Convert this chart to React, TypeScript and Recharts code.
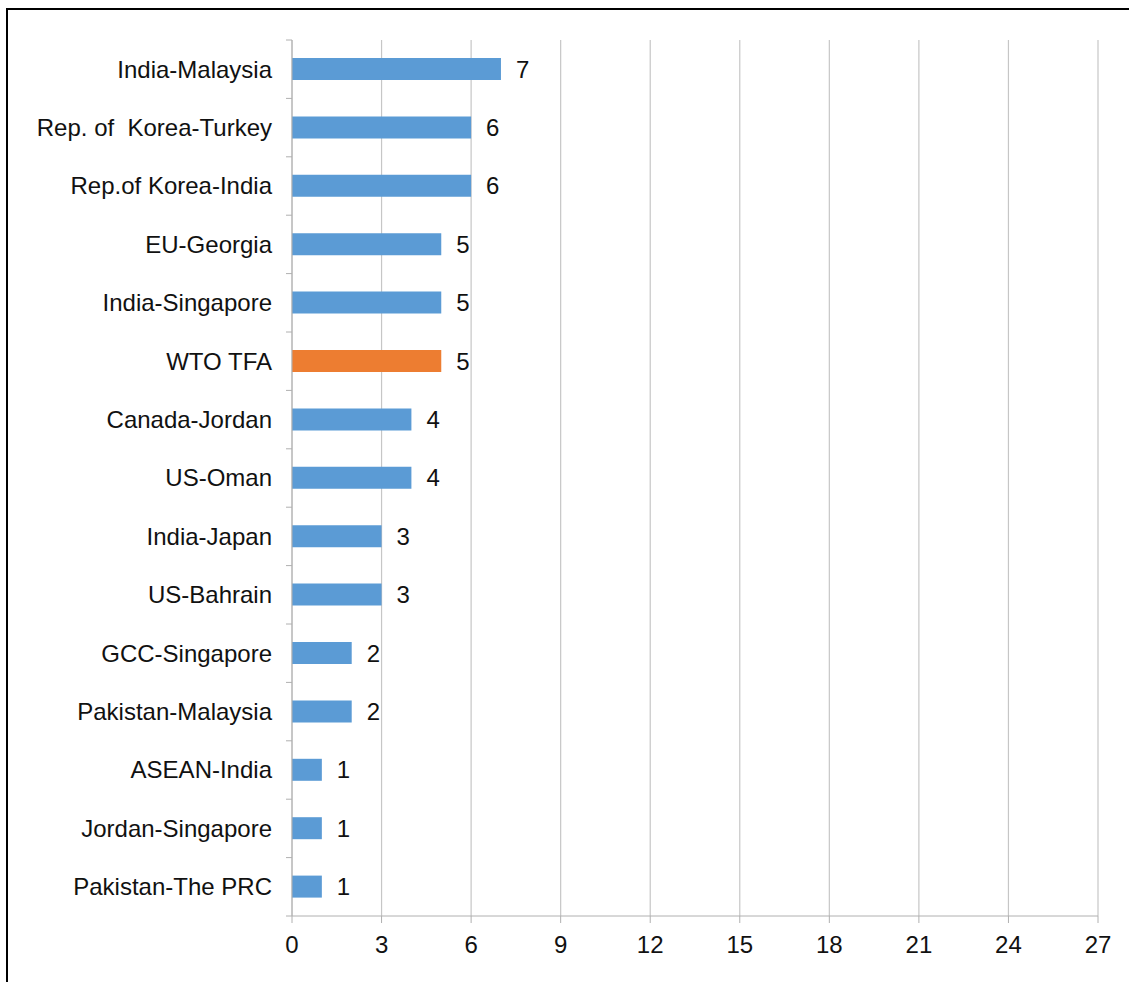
import { BarChart, Bar, XAxis, YAxis, CartesianGrid, Cell, LabelList } from "recharts";

const agreements = [
  "India-Malaysia",
  "Rep. of  Korea-Turkey",
  "Rep.of Korea-India",
  "EU-Georgia",
  "India-Singapore",
  "WTO TFA",
  "Canada-Jordan",
  "US-Oman",
  "India-Japan",
  "US-Bahrain",
  "GCC-Singapore",
  "Pakistan-Malaysia",
  "ASEAN-India",
  "Jordan-Singapore",
  "Pakistan-The PRC",
];
const counts = [7, 6, 6, 5, 5, 5, 4, 4, 3, 3, 2, 2, 1, 1, 1];
const xTicks = [0, 3, 6, 9, 12, 15, 18, 21, 24, 27];
const highlight = "WTO TFA";

const data = agreements.map((name, i) => ({ name, value: counts[i] }));

const FONT = "'Liberation Sans', Arial, sans-serif";
const AXIS = "#b0b0b0";

// category label plus a tick mark on the band boundary (Excel style)
function CategoryTick(props: any) {
  const { x, y, payload, index, visibleTicksCount } = props;
  const half = payload.offset ?? 0;
  const axisX = x + 20;
  const last = index === visibleTicksCount - 1;
  return (
    <g>
      <line x1={axisX - 6} x2={axisX} y1={y - half} y2={y - half} stroke={AXIS} strokeWidth={1} />
      {last ? (
        <line x1={axisX - 6} x2={axisX} y1={y + half} y2={y + half} stroke={AXIS} strokeWidth={1} />
      ) : null}
      <text
        x={x}
        y={y}
        dy="0.35em"
        textAnchor="end"
        fill="#111"
        style={{ fontSize: 24, fontFamily: FONT, whiteSpace: "pre" }}
      >
        {payload.value}
      </text>
    </g>
  );
}

export default function App() {
  return (
    <div
      style={{
        position: "absolute",
        left: 6,
        top: 8,
        width: 1123,
        height: 974,
        boxSizing: "border-box",
        borderTop: "2px solid #000",
        borderLeft: "2px solid #000",
        background: "#fff",
      }}
    >
      <BarChart
        width={1121}
        height={972}
        data={data}
        layout="vertical"
        margin={{ top: 30, right: 31, bottom: 26, left: 0 }}
        barSize={22}
      >
        <CartesianGrid horizontal={false} stroke="#c6c6c6" strokeWidth={1.2} />
        <XAxis
          type="number"
          domain={[0, 27]}
          ticks={xTicks}
          interval={0}
          height={40}
          stroke={AXIS}
          tickSize={7}
          tickMargin={13}
          tick={{ fill: "#111", fontSize: 24, fontFamily: FONT }}
        />
        <YAxis
          type="category"
          dataKey="name"
          width={284}
          stroke={AXIS}
          tickLine={false}
          tickSize={0}
          tickMargin={20}
          interval={0}
          tick={<CategoryTick />}
        />
        <Bar dataKey="value" isAnimationActive={false}>
          {data.map((d) => (
            <Cell key={d.name} fill={d.name === highlight ? "#ED7D31" : "#5B9BD5"} />
          ))}
          <LabelList
            dataKey="value"
            position="right"
            offset={15}
            fill="#111"
            style={{ fontSize: 24, fontFamily: FONT }}
          />
        </Bar>
      </BarChart>
    </div>
  );
}
